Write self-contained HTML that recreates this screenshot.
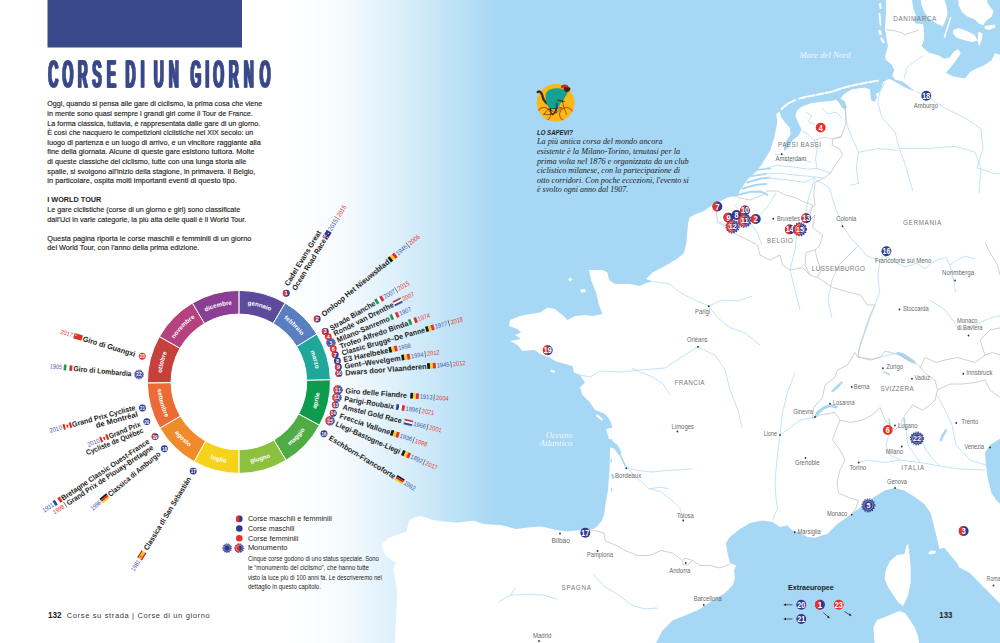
<!DOCTYPE html>
<html lang="it"><head><meta charset="utf-8"><title>Corse di un giorno</title>
<style>
html,body{margin:0;padding:0;background:#fff}
body{width:1000px;height:643px;overflow:hidden;position:relative}
svg{position:absolute;left:0;top:0;display:block}
text{font-family:"Liberation Sans",sans-serif}
.ser{font-family:"Liberation Serif",serif}
.b{font-weight:bold}
.i{font-style:italic}
</style></head><body>
<svg width="1000" height="643" viewBox="0 0 1000 643">
<defs><linearGradient id="sea" gradientUnits="userSpaceOnUse" x1="288" x2="498" y1="0" y2="0"><stop offset="0" stop-color="#a6d7f4" stop-opacity="0"/><stop offset="0.25" stop-color="#a6d7f4" stop-opacity="0.1"/><stop offset="0.53" stop-color="#a6d7f4" stop-opacity="0.4"/><stop offset="0.77" stop-color="#a6d7f4" stop-opacity="0.7"/><stop offset="1" stop-color="#a6d7f4" stop-opacity="1"/></linearGradient></defs>
<rect x="288" y="0" width="210" height="643" fill="url(#sea)"/><rect x="497.5" y="0" width="504" height="643" fill="#a6d7f4"/>
<polygon points="886,-2 886,14 885,28 886.6,39 888,46 885,56 886,60 891.5,64.4 894.3,70 892.2,75.6 895,79.8 902,81.2 906,84 912,89 916,91.5 910,89.5 904,87 898,83.5 893,80.5 889,78.8 883.3,82 881.7,87.6 879.3,92.4 876.1,93.2 876.9,98 874.5,102 871.3,100.4 870.5,94 869.7,89.2 864.9,87.6 852.1,89.2 844.1,94 840.5,98.5 844.5,101 847,107.5 845,109.8 841.5,107 838.8,102 836,99.5 832,101 822,101.7 811,103.2 802,106.5 797,110.5 795.3,115.6 798.4,123.3 801.5,129.5 798.4,135.8 792.2,140.4 789.1,146.7 784.4,151.3 783.7,146.7 787.5,138.9 790.7,134.2 789.9,128 784.4,121.8 781.3,117.1 777.6,118 776.8,124.5 774.4,137.3 770.4,150 766.5,156.4 761.7,164.4 756.9,170.8 752.1,175.6 747.3,179.6 742.5,186.8 739.3,191.6 737.7,196.4 731.3,196.4 726.5,198 720,201.2 712,205.3 704,210.9 696,214 689.6,217.3 688,223.7 687.2,233.3 686.4,242.9 684,253 677.5,258.5 665,266 652.5,272.5 646,279 653,281.5 646,283 640,286 630,284 615,284 609,280 607.5,272.5 602.5,270 589,270 591,280 596,292.5 599,305 602.5,314 592.5,316 585,315 575,316 567.5,320 562.5,315 555,309 547.5,307.5 540,312.5 530,314 520,316 510,320 509,326 517.5,329 521,332.5 515,335 521,339 510,341 517.5,345 522.5,351 534,350 542.5,355 550,357.5 555,361 565,364 572.5,366 574,372.5 580,375 585,382.5 580,387.5 582.5,395 590,402.5 595,410 605,414 610,420 612.5,427.5 606,429 609,439 617.5,445 622,453 616,449 610,447.5 609.5,470 608,490 605.3,505.6 604,515 601.4,521.2 597,526.5 593.6,529 585,530 578,530.3 567.6,531.6 560,530.5 552,529 545,527.3 539,526.4 526,527.7 515.6,529 507,526.5 500,525.1 490,524.6 481.8,523.8 474,520.7 465,521.8 455.8,522.5 444,521.4 432.4,519.9 426,517.5 419.4,516 413,518 409,521.2 406.4,531.6 397,535 388.2,538.1 381.7,544.6 383,550 385.6,555 391,559.5 396,562.8 393.4,568 395.5,581 397.3,594 396.7,607 396,620 394.7,645 656,645 656,643 662.5,630.5 672.5,620.5 685,615.5 700,609 712.5,600.5 725,593 732.5,585.5 735,578 734,570.5 736,565.5 730,563 727.5,553 726,543 730,537 740,529 750,523 762.5,520.5 772.5,522 780,527 787.5,525.5 792.5,530.5 800,533 807.5,537 815,537.7 827.4,534 837.3,524 849.8,515.3 859.7,507.9 867.2,501.7 874.6,496.7 884.6,490.5 894.5,488 904.5,490.5 914.4,496.7 924.4,504.1 930.6,512.9 933.1,522.8 935.6,532.8 938,542.7 939.3,548.9 944.3,547.7 949.3,553.9 956.7,562.6 959.2,567.6 969.2,572.6 979.1,582.5 989,592.5 996.5,599.9 1002,605 1002,505.4 996.5,500.4 991.5,493 989,483 987.5,477.5 986,465 985,452.5 990,445 1002,437.5 1002,55.3 995,53.2 991.6,60.2 984.6,65.1 977.6,67.9 970.6,71.4 965,78.4 952.4,76.3 946,72.8 949.6,68.6 955.2,61.6 960.8,53.2 958,49 953.8,51.8 949.6,57.4 944,58.8 938.4,55.3 928.6,52.5 921.6,46.2 923.7,40.6 924.4,32.2 918.8,28 914,21 916,15.4 913.2,8.4 911.8,-2" fill="#fff"/>
<polygon points="920.2,-2 921.6,5.6 924.4,12.6 930,19.6 937,23.8 942.6,26.6 945.4,21 947.5,14 946.8,7 944,-2" fill="#fff"/>
<polygon points="958,-2 958.7,5.6 962.2,12.6 967.8,16.8 974.8,19.6 979,23.8 983.2,25.2 986,21 991.6,16.8 993.7,11.2 990.2,7 987.4,2.8 986.7,-2" fill="#fff"/>
<polygon points="953.1,30.1 958,28 966.4,30.8 974.8,35 977.6,40.6 972,42 963.6,39.9 956.6,37.8 953.1,33.6" fill="#fff"/>
<polygon points="978.3,31.5 982.5,33.6 981.8,40.6 979,46.2 977.6,40.6" fill="#fff"/>
<polygon points="984.6,25.9 994.4,24.5 995.8,27.3 988.8,30.1 984.6,28.7" fill="#fff"/>
<polygon points="950,17 951.5,17.5 945,38 943.5,37.5" fill="#fff"/>
<polygon points="914,23.5 923,24 924,31 917,30" fill="#fff"/>
<polygon points="908.2,544 909.5,555.1 910.7,567.6 910.7,582.5 908.2,595 903.2,606.1 898.3,602.4 893.3,595 888.3,587.5 884.6,578.8 885.8,570.1 889.6,561.4 897,555.1 904.5,553.9 906.5,545.2" fill="#fff"/>
<polygon points="874.6,645 873.4,627.3 877,620 885,617 892,614 899.5,611 905,613 910,620 915,628 918,636 919.4,645" fill="#fff"/>
<polygon points="928,553 931,550.5 936,551 935,553.5 930,554.5" fill="#fff"/>
<polygon points="776.5,113.5 779.5,112 781,116 778.5,120.5 776.5,118" fill="#fff"/>
<polygon points="568,279 571,277.5 572.5,280 569.5,281.5" fill="#fff"/>
<polygon points="580,289.5 585,289 586,292 581,292.5" fill="#fff"/>
<polygon points="550.5,369.5 555,371 554.5,373 550.5,371.5" fill="#fff"/>
<polygon points="593,405 599,407.5 598.5,409 593,407" fill="#fff"/>
<polygon points="597,414 603,419 602,421 596,416" fill="#fff"/>
<polyline points="781.5,109 788,103.6 796,99.6" fill="none" stroke="#fff" stroke-width="2.0" stroke-linecap="round" stroke-dasharray="4.5 1.4"/>
<polyline points="799,98.6 807.3,96.6 818,94.6 832,91.7 842.5,88 852,85.6 866,82.7 878,80.6" fill="none" stroke="#fff" stroke-width="2.0" stroke-linecap="round" stroke-dasharray="7 2"/>
<polyline points="880,4 880.5,8" fill="none" stroke="#fff" stroke-width="2" stroke-linecap="round"/>
<polyline points="879.5,14 880.5,25" fill="none" stroke="#fff" stroke-width="1.8" stroke-linecap="round"/>
<polyline points="879.5,31 880.5,34" fill="none" stroke="#fff" stroke-width="2.4" stroke-linecap="round"/>
<polyline points="881.5,38.5 883.5,42" fill="none" stroke="#fff" stroke-width="2.4" stroke-linecap="round"/>
<polyline points="610.5,440.5 619.5,453.5" fill="none" stroke="#a6d7f4" stroke-width="3.2" stroke-linecap="round" stroke-linejoin="round"/>
<polyline points="619.5,453.5 625.3,466" fill="none" stroke="#a6d7f4" stroke-width="1.7" stroke-linecap="round" stroke-linejoin="round"/>
<polyline points="612.3,475 613.3,477.5" fill="none" stroke="#a6d7f4" stroke-width="2.6" stroke-linecap="round" stroke-linejoin="round"/>
<polyline points="611,459 611.2,462" fill="none" stroke="#a6d7f4" stroke-width="1.2" stroke-linecap="round" stroke-linejoin="round"/>
<polyline points="611.3,488 611.6,491" fill="none" stroke="#a6d7f4" stroke-width="1.2" stroke-linecap="round" stroke-linejoin="round"/>
<polyline points="755.7,170 770.4,168.4" fill="none" stroke="#a6d7f4" stroke-width="1.6" stroke-linecap="round" stroke-linejoin="round"/>
<polyline points="751.8,176.2 765.8,173.9" fill="none" stroke="#a6d7f4" stroke-width="1.8" stroke-linecap="round" stroke-linejoin="round"/>
<polyline points="747.1,182.4 761.1,178.5 768.9,177.8" fill="none" stroke="#a6d7f4" stroke-width="2.0" stroke-linecap="round" stroke-linejoin="round"/>
<polyline points="742.4,188.6 756.4,184.8 765.8,184" fill="none" stroke="#a6d7f4" stroke-width="2.0" stroke-linecap="round" stroke-linejoin="round"/>
<polyline points="737.8,194.9 750.2,191.8 761.1,191.8 767.3,194.9" fill="none" stroke="#a6d7f4" stroke-width="2.0" stroke-linecap="round" stroke-linejoin="round"/>
<polygon points="813.5,417.5 817,411 824,406 831,404 838,406.5 836.5,408.5 830,407 824,409.5 818.5,414.5 815,418.5" fill="#a6d7f4"/>
<polygon points="897,352 903,353 910,357.5 916,362 914.5,364 908,361 901,356.5 896.5,354" fill="#a6d7f4"/>
<polygon points="831,391.5 836,386 842,381 843,382.5 838,388 832.5,392.5" fill="#a6d7f4"/>
<polygon points="888.5,418.5 890,418.5 890.5,426 889,434 887.5,433.5 889,426" fill="#a6d7f4"/>
<polygon points="903.5,418 905,418 905.5,425 907,430 905.5,430.5 903.8,425" fill="#a6d7f4"/>
<polygon points="945.5,429 947.5,430 944,436 941.5,441.5 939.5,441 941.5,435" fill="#a6d7f4"/>
<polygon points="884,371 890,374 889.5,375.5 883.5,372.5" fill="#a6d7f4"/>
<g fill="none" stroke="#b4dcf5" stroke-width="0.8" stroke-linejoin="round">
<polyline points="815.6,179.5 829.2,187.3 835,206.7 842.8,226.2 850.6,237.9 858.4,245.6 866.1,255.4 879.8,261.2 877.8,276.8 879.8,292.3 875.9,302.1 868.1,323.5 862.3,340 859,350 858,357 872,359 885,356 897,353"/>
<polyline points="765.8,168.4 776.7,165.3 792.2,166.9 807.8,169.2 817.1,168.4 831.1,173.1"/>
<polyline points="761.1,174.7 776.7,173.1 792.2,174.7 807.8,176.2 823.3,177.8"/>
<polyline points="768.9,177.8 773.5,178.5 789.1,180.1 804.7,182.4 815,177.5"/>
<polyline points="817.1,168.4 815.5,159.1 817.1,149.8 814,140.4 807.8,134.2 801.5,131.1"/>
<polyline points="814,140.4 823.3,137.3 832.6,138.9 842,135.8"/>
<polyline points="781.3,154.4 775.1,154.4"/>
<polyline points="782.9,159.1 792.2,162.2 801.5,159.1 810.9,162.2"/>
<polyline points="806,112 812,116 808,121 815,125"/>
<polyline points="822,108 828,114 836,112 842,118"/>
<polyline points="879.8,261.2 883.7,255.4 893.4,261.2 905,267 916.7,263.1 924.5,269 934.2,261.2 945.9,257.3 949.8,265.1 955.6,261.2 965,256 975,259"/>
<polyline points="949.8,265.1 953.7,280.7 955.6,292.3"/>
<polyline points="916,91.5 922.5,93.75 926.5,95.8 944,107.5 967.3,119.2 981,129 983,148.4 977,167.8 994.6,173.7 1001,173.7"/>
<polyline points="885,82.5 880,92 877.8,101.7 881.7,117.2 895.3,132.8 899.2,148.4 905,163.9 912.8,191.2"/>
<polyline points="899.2,148.4 928.4,148.4 955.6,146.4 975,152.3 981,167.8 979,193"/>
<polyline points="858.4,152.3 877.8,148.4 897.3,150.3"/>
<polyline points="845,108 847,125 853,140 858.4,152.3 856.4,167.8 858.4,183.4 850.6,185.3"/>
<polyline points="923.2,56 915.2,60.8 907.2,67.2 904,78.4"/>
<polyline points="653,281.5 670,284 680,292.5 692.5,299 708.75,306 717.5,317.5 730,327.5 745,333 760,345"/>
<polyline points="708.75,306 722,300 738,301 752,296"/>
<polyline points="580,375 590,377 600,371 620,372 640,370 665,368 680,358 697.5,347 715,355 725,370 730,390 738,410 742,428"/>
<polyline points="625.3,466 626.7,467.7 636.5,477.5 649,488.7 660.3,491.5 671.5,499.9 679.9,508.3 683.2,520"/>
<polyline points="626,467 638,470.5 652,472 666,470.5 692,469"/>
<polyline points="813.5,417.5 800,420 790,428 780,435 778,450 776,470 775,483 776,498 777.5,508 772.5,520.5"/>
<polyline points="795,372.5 787.5,392.5 782.5,412.5 780,435"/>
<polyline points="858.75,462.5 867.5,460 885,462.5 900,460 920,462.5 940,466 960,469 985,470"/>
<polyline points="815,177.5 808,200 805,218 797,232 795,250 790,270 795,290 800,310"/>
<polyline points="858.4,245.6 846.7,257.3 838.9,265.1 832,280 828,300 832,318"/>
<polyline points="922,440 926,450 932,458 940,466"/>
<polyline points="889,434 886,445 890,455 900,460"/>
<polyline points="906,430 908,445 915,455 920,462.5"/>
<polyline points="937,395 945,410 952,425 956,445 970,460 986,465"/>
<polyline points="735,205 742,215 750,222 757,232 762,245"/>
<polyline points="716,222 726,226 738,228 748,226 757,218 768,206 776,193"/>
<polyline points="960,330 975,325 990,318 1000,316"/>
<polyline points="930,300 945,310 960,330"/>
<polyline points="593.6,574.5 604,586.2 617,594 632.5,605.5 645,609 657.5,608"/>
<polyline points="498.7,601.8 510.4,595.3 515.6,587.5"/>
<polyline points="510.4,595.3 531.2,594 545,595.5 557.2,599.2"/>
<polyline points="632,368.4 652,376.8 663,383.8 670,395"/>
<polyline points="649,488.7 660,487.3 668.7,488.7"/>
</g>
<g fill="none" stroke="#c4c4c4" stroke-width="0.8" stroke-linejoin="round">
<polyline points="715.5,208 717.5,220 725,227.5 737.5,235 747.5,240 757.5,245 760,255 770,260 780,255 782.5,265 790,270 802.5,267.5 810,275"/>
<polyline points="737.5,197.5 750,200 762.5,195 767.5,191 777.5,191 785,195 795,197.5 805,202.5 812.5,205 810,215 808.75,220"/>
<polyline points="830.5,94 839.3,102 845.7,110 845.7,124.5 840.9,137.3 832.9,138.9 832.1,145.3 839.3,148.5 842.5,154.9 834.5,166.1 831,172.5 825,177.5 815,182.5 813.75,195 815,205 806,215 810,220"/>
<polyline points="810,220 815,215 812.5,227.5 822.5,235 820,245 815,250 806,252.5 805,265 810,275 817.5,277.5 821,270 817.5,260 815,250"/>
<polyline points="817.5,277.5 832.5,287.5 850,292.5 860,295 867.5,305 875,305 870,315 865,330 860,345 858,357"/>
<polyline points="858,357 855,352.5 847.5,365 837.5,370 835,377.5 825,385 822.5,397.5 813.75,407.5 812.5,418.75 820,415 835,412.5 840,420 850,422.5 862.5,420 872.5,415 880,407.5 885,420 895,430 900,425 905,415 912.5,405 922.5,410 930,405 935,400 937.5,390 935,380 927.5,375 920,367.5 915,362.5 900,355 885,351 880,357.5 870,360 858,357"/>
<polyline points="840,420 835,432.5 832.5,440 840,450 845,460 840,470 837.5,480 837,483 838.5,493 849.8,498 858.5,500.4 856,508 852,514"/>
<polyline points="920,367.5 925,357.5 936,362.5 945,360 957.5,357.5 975,362.5 985,355 992.5,352.5 1000,355"/>
<polyline points="937.5,390 950,384 962.5,384 975,382.5 985,380 990,390 1000,397.5"/>
<polyline points="589,531 593.6,530.3 604,532.9 605.3,540.7 617,545.9 625,550.5 637.5,555.5 650,555.5 661,550.5 672.5,553 682.5,560.5 685,558 692.5,560.5 700,565.5 710,565.5 720,568 730,564"/>
<polyline points="682.5,560.5 683,564.5 688,565 692.5,560.5"/>
<polyline points="886.6,29.7 895,30.8 902,32.9 904.8,34.7 911.8,32.2 918.8,30.1"/>
<polyline points="985,242.5 990,252.5 997.5,265 1000,275"/>
<polyline points="985,355 980,340 990,330 1000,328"/>
</g>
<g font-size="6.4" fill="#6a6a6a">
<circle cx="781.75" cy="154.25" r="0.9" fill="#333"/>
<text x="775.5" y="160.9" textLength="30.7" lengthAdjust="spacingAndGlyphs">Amsterdam</text>
<circle cx="773.25" cy="218.75" r="0.9" fill="#333"/>
<text x="777" y="220.7" textLength="23" lengthAdjust="spacingAndGlyphs">Bruxelles</text>
<circle cx="842.5" cy="226.25" r="0.9" fill="#333"/>
<text x="836.25" y="220.9" textLength="20" lengthAdjust="spacingAndGlyphs">Colonia</text>
<text x="875" y="262.6" textLength="56.2" lengthAdjust="spacingAndGlyphs">Francoforte sul Meno</text>
<circle cx="955" cy="280.5" r="0.9" fill="#333"/>
<text x="942" y="275.4" textLength="32.2" lengthAdjust="spacingAndGlyphs">Norimberga</text>
<circle cx="899.5" cy="309.5" r="0.9" fill="#333"/>
<text x="903" y="311" textLength="25.7" lengthAdjust="spacingAndGlyphs">Stoccarda</text>
<circle cx="968.5" cy="335.5" r="0.9" fill="#333"/>
<text x="957" y="323.3" textLength="20.5" lengthAdjust="spacingAndGlyphs">Monaco</text>
<text x="957" y="329.6" textLength="25.5" lengthAdjust="spacingAndGlyphs">di Baviera</text>
<text x="913.75" y="107.6" textLength="24.2" lengthAdjust="spacingAndGlyphs">Amburgo</text>
<circle cx="708.75" cy="306.25" r="0.9" fill="#333"/>
<text x="695" y="314" textLength="15" lengthAdjust="spacingAndGlyphs">Parigi</text>
<circle cx="698" cy="346.75" r="0.9" fill="#333"/>
<text x="687" y="342.4" textLength="20.5" lengthAdjust="spacingAndGlyphs">Orléans</text>
<circle cx="677.5" cy="431.5" r="0.9" fill="#333"/>
<text x="671.5" y="428.8" textLength="22.5" lengthAdjust="spacingAndGlyphs">Limoges</text>
<circle cx="626.25" cy="468.25" r="0.9" fill="#333"/>
<text x="615" y="477.6" textLength="26.2" lengthAdjust="spacingAndGlyphs">Bordeaux</text>
<circle cx="683.25" cy="520.5" r="0.9" fill="#333"/>
<text x="677" y="517.7" textLength="16.7" lengthAdjust="spacingAndGlyphs">Tolosa</text>
<circle cx="685.75" cy="563" r="0.9" fill="#333"/>
<text x="669.25" y="572.7" textLength="21.2" lengthAdjust="spacingAndGlyphs">Andorra</text>
<circle cx="703.75" cy="605" r="0.9" fill="#333"/>
<text x="693.75" y="601" textLength="28" lengthAdjust="spacingAndGlyphs">Barcellona</text>
<circle cx="794.75" cy="532.25" r="0.9" fill="#333"/>
<text x="797.5" y="533.8" textLength="23.2" lengthAdjust="spacingAndGlyphs">Marsiglia</text>
<circle cx="851.7" cy="514.6" r="0.9" fill="#333"/>
<text x="826.9" y="516" textLength="20.4" lengthAdjust="spacingAndGlyphs">Monaco</text>
<circle cx="895" cy="488" r="0.9" fill="#333"/>
<text x="887" y="484.4" textLength="20" lengthAdjust="spacingAndGlyphs">Genova</text>
<circle cx="858.75" cy="462.5" r="0.9" fill="#333"/>
<text x="849.5" y="470.2" textLength="16.7" lengthAdjust="spacingAndGlyphs">Torino</text>
<circle cx="901.75" cy="446.5" r="0.9" fill="#333"/>
<text x="885.75" y="454.4" textLength="17.2" lengthAdjust="spacingAndGlyphs">Milano</text>
<circle cx="895" cy="425.5" r="0.9" fill="#333"/>
<text x="898" y="427.7" textLength="19.5" lengthAdjust="spacingAndGlyphs">Lugano</text>
<circle cx="956.25" cy="423" r="0.9" fill="#333"/>
<text x="961.25" y="424.2" textLength="17" lengthAdjust="spacingAndGlyphs">Trento</text>
<circle cx="990" cy="447.5" r="0.9" fill="#333"/>
<text x="964.5" y="449" textLength="19.7" lengthAdjust="spacingAndGlyphs">Venezia</text>
<circle cx="805.5" cy="458" r="0.9" fill="#333"/>
<text x="795" y="465.2" textLength="24.5" lengthAdjust="spacingAndGlyphs">Grenoble</text>
<circle cx="780" cy="435" r="0.9" fill="#333"/>
<text x="763.75" y="436.2" textLength="13.2" lengthAdjust="spacingAndGlyphs">Lione</text>
<circle cx="815" cy="417" r="0.9" fill="#333"/>
<text x="793.25" y="414.4" textLength="19.7" lengthAdjust="spacingAndGlyphs">Ginevra</text>
<circle cx="830" cy="403.75" r="0.9" fill="#333"/>
<text x="833" y="405.2" textLength="21.5" lengthAdjust="spacingAndGlyphs">Losanna</text>
<circle cx="851.75" cy="387" r="0.9" fill="#333"/>
<text x="853.75" y="388.7" textLength="15.7" lengthAdjust="spacingAndGlyphs">Berna</text>
<circle cx="883" cy="368.25" r="0.9" fill="#333"/>
<text x="886.25" y="369.4" textLength="16.7" lengthAdjust="spacingAndGlyphs">Zurigo</text>
<circle cx="912" cy="378.75" r="0.9" fill="#333"/>
<text x="914.5" y="380.2" textLength="15.5" lengthAdjust="spacingAndGlyphs">Vaduz</text>
<circle cx="963.25" cy="373.75" r="0.9" fill="#333"/>
<text x="966.25" y="375.2" textLength="26.2" lengthAdjust="spacingAndGlyphs">Innsbruck</text>
<circle cx="993.5" cy="585.5" r="0.9" fill="#333"/>
<text x="986.6" y="581" textLength="14" lengthAdjust="spacingAndGlyphs">Roma</text>
<circle cx="560" cy="533.5" r="0.9" fill="#333"/>
<text x="551.5" y="543" textLength="18.5" lengthAdjust="spacingAndGlyphs">Bilbao</text>
<circle cx="597.5" cy="551" r="0.9" fill="#333"/>
<text x="587" y="557.2" textLength="26" lengthAdjust="spacingAndGlyphs">Pamplona</text>
<circle cx="539" cy="641" r="0.9" fill="#333"/>
<text x="533" y="638.4" textLength="18.4" lengthAdjust="spacingAndGlyphs">Madrid</text>
</g>
<g font-size="6.3" fill="#7a7a7a">
<text x="893.2" y="20.8" textLength="43.1" lengthAdjust="spacing">DANIMARCA</text>
<text x="778" y="146.6" textLength="43" lengthAdjust="spacing">PAESI BASSI</text>
<text x="767" y="242.6" textLength="26" lengthAdjust="spacing">BELGIO</text>
<text x="811.75" y="270.6" textLength="53.2" lengthAdjust="spacing">LUSSEMBURGO</text>
<text x="903" y="224.6" textLength="38.2" lengthAdjust="spacing">GERMANIA</text>
<text x="674.5" y="385.2" textLength="30" lengthAdjust="spacing">FRANCIA</text>
<text x="880.5" y="390.6" textLength="33.2" lengthAdjust="spacing">SVIZZERA</text>
<text x="901.25" y="470.1" textLength="23" lengthAdjust="spacing">ITALIA</text>
<text x="561.5" y="590.2" textLength="29.5" lengthAdjust="spacing">SPAGNA</text>
</g>
<g class="ser i" fill="#fff" fill-opacity="0.88" font-size="7.6">
<text x="799.5" y="57.6" textLength="51" lengthAdjust="spacingAndGlyphs" class="ser i">Mare del Nord</text>
<text x="545.75" y="438.1" textLength="26.8" lengthAdjust="spacingAndGlyphs" class="ser i">Oceano</text>
<text x="539.5" y="446.4" textLength="33" lengthAdjust="spacingAndGlyphs" class="ser i">Atlantico</text>
</g>
<text x="788" y="590.0" font-size="7.9" class="b" fill="#1d1d1b" textLength="45.8" lengthAdjust="spacingAndGlyphs">Extraeuropee</text>
<path d="M792.5,604.75 L783.75,604.75" stroke="#222" stroke-width="0.7" fill="none"/><path d="M783.75,604.75 L786.03,603.50 L786.03,606.00 Z" fill="#222"/>
<path d="M792.5,619 L783.75,619" stroke="#222" stroke-width="0.7" fill="none"/><path d="M783.75,619 L786.03,617.75 L786.03,620.25 Z" fill="#222"/>
<path d="M823.25,612.5 L829.5,618" stroke="#222" stroke-width="0.7" fill="none"/><path d="M829.5,618 L826.96,617.43 L828.61,615.56 Z" fill="#222"/>
<path d="M844.5,611.6 L851.3,615.6" stroke="#222" stroke-width="0.7" fill="none"/><path d="M851.3,615.6 L848.70,615.52 L849.97,613.37 Z" fill="#222"/>
<circle cx="926.3" cy="95.7" r="4.95" fill="#2f3a8f"/><text x="926.3" y="98.72" font-size="8.4" class="b" fill="#fff" text-anchor="middle" textLength="7.9" lengthAdjust="spacingAndGlyphs">18</text>
<circle cx="820.7" cy="127.6" r="4.95" fill="#e63329"/><text x="820.7" y="130.62" font-size="8.4" class="b" fill="#fff" text-anchor="middle" textLength="4.0" lengthAdjust="spacingAndGlyphs">4</text>
<circle cx="717.4" cy="206.5" r="4.95" fill="#2f3a8f"/><path d="M717.4,201.55 A4.95,4.95 0 0 0 717.4,211.45 Z" fill="#e63329"/><text x="717.4" y="209.52" font-size="8.4" class="b" fill="#fff" text-anchor="middle" textLength="4.0" lengthAdjust="spacingAndGlyphs">7</text>
<circle cx="736.5" cy="215" r="4.95" fill="#2f3a8f"/><text x="736.5" y="218.02" font-size="8.4" class="b" fill="#fff" text-anchor="middle" textLength="4.0" lengthAdjust="spacingAndGlyphs">8</text>
<circle cx="728.4" cy="217.6" r="4.95" fill="#2f3a8f"/><path d="M728.4,212.65 A4.95,4.95 0 0 0 728.4,222.54999999999998 Z" fill="#e63329"/><text x="728.4" y="220.62" font-size="8.4" class="b" fill="#fff" text-anchor="middle" textLength="4.0" lengthAdjust="spacingAndGlyphs">9</text>
<circle cx="745" cy="210.4" r="4.95" fill="#2f3a8f"/><path d="M745,205.45000000000002 A4.95,4.95 0 0 0 745,215.35 Z" fill="#e63329"/><text x="745" y="213.42" font-size="8.4" class="b" fill="#fff" text-anchor="middle" textLength="7.9" lengthAdjust="spacingAndGlyphs">10</text>
<circle cx="732.6" cy="226.5" r="6.0" fill="#2f3a8f"/><path d="M732.6,220.5 A6.0,6.0 0 0 0 732.6,232.5 Z" fill="#e63329"/><circle cx="732.6" cy="226.5" r="6.45" fill="none" stroke="#2f3a8f" stroke-width="1.1" stroke-dasharray="1.4 1.13"/><path d="M732.6,220.05 A6.45,6.45 0 0 0 732.6,232.95" fill="none" stroke="#e63329" stroke-width="1.1" stroke-dasharray="1.4 1.13"/><circle cx="732.6" cy="226.5" r="4.55" fill="none" stroke="#fff" stroke-width="0.45"/><text x="732.6" y="229.24" font-size="7.6" class="b" fill="#fff" text-anchor="middle" textLength="7.9" lengthAdjust="spacingAndGlyphs">12</text>
<circle cx="744.7" cy="220.6" r="6.0" fill="#2f3a8f"/><path d="M744.7,214.6 A6.0,6.0 0 0 0 744.7,226.6 Z" fill="#e63329"/><circle cx="744.7" cy="220.6" r="6.45" fill="none" stroke="#2f3a8f" stroke-width="1.1" stroke-dasharray="1.4 1.13"/><path d="M744.7,214.15 A6.45,6.45 0 0 0 744.7,227.04999999999998" fill="none" stroke="#e63329" stroke-width="1.1" stroke-dasharray="1.4 1.13"/><circle cx="744.7" cy="220.6" r="4.55" fill="none" stroke="#fff" stroke-width="0.45"/><text x="744.7" y="223.34" font-size="7.6" class="b" fill="#fff" text-anchor="middle" textLength="7.9" lengthAdjust="spacingAndGlyphs">11</text>
<circle cx="755.8" cy="219" r="4.95" fill="#2f3a8f"/><path d="M755.8,214.05 A4.95,4.95 0 0 0 755.8,223.95 Z" fill="#e63329"/><text x="755.8" y="222.02" font-size="8.4" class="b" fill="#fff" text-anchor="middle" textLength="4.0" lengthAdjust="spacingAndGlyphs">2</text>
<circle cx="806.25" cy="218.25" r="4.95" fill="#2f3a8f"/><path d="M806.25,213.3 A4.95,4.95 0 0 0 806.25,223.2 Z" fill="#e63329"/><text x="806.25" y="221.27" font-size="8.4" class="b" fill="#fff" text-anchor="middle" textLength="7.9" lengthAdjust="spacingAndGlyphs">13</text>
<circle cx="789.8" cy="229.4" r="4.95" fill="#2f3a8f"/><path d="M789.8,224.45000000000002 A4.95,4.95 0 0 0 789.8,234.35 Z" fill="#e63329"/><text x="789.8" y="232.42" font-size="8.4" class="b" fill="#fff" text-anchor="middle" textLength="7.9" lengthAdjust="spacingAndGlyphs">14</text>
<circle cx="800" cy="229.3" r="6.0" fill="#2f3a8f"/><path d="M800,223.3 A6.0,6.0 0 0 0 800,235.3 Z" fill="#e63329"/><circle cx="800" cy="229.3" r="6.45" fill="none" stroke="#2f3a8f" stroke-width="1.1" stroke-dasharray="1.4 1.13"/><path d="M800,222.85000000000002 A6.45,6.45 0 0 0 800,235.75" fill="none" stroke="#e63329" stroke-width="1.1" stroke-dasharray="1.4 1.13"/><circle cx="800" cy="229.3" r="4.55" fill="none" stroke="#fff" stroke-width="0.45"/><text x="800" y="232.04" font-size="7.6" class="b" fill="#fff" text-anchor="middle" textLength="7.9" lengthAdjust="spacingAndGlyphs">15</text>
<circle cx="886.4" cy="251.3" r="4.95" fill="#2f3a8f"/><text x="886.4" y="254.32" font-size="8.4" class="b" fill="#fff" text-anchor="middle" textLength="7.9" lengthAdjust="spacingAndGlyphs">16</text>
<circle cx="547.75" cy="350.25" r="4.95" fill="#2f3a8f"/><path d="M547.75,345.3 A4.95,4.95 0 0 0 547.75,355.2 Z" fill="#e63329"/><text x="547.75" y="353.27" font-size="8.4" class="b" fill="#fff" text-anchor="middle" textLength="7.9" lengthAdjust="spacingAndGlyphs">19</text>
<circle cx="585.3" cy="532.8" r="4.95" fill="#2f3a8f"/><text x="585.3" y="535.82" font-size="8.4" class="b" fill="#fff" text-anchor="middle" textLength="7.9" lengthAdjust="spacingAndGlyphs">17</text>
<circle cx="887.8" cy="430" r="4.95" fill="#e63329"/><text x="887.8" y="433.02" font-size="8.4" class="b" fill="#fff" text-anchor="middle" textLength="4.0" lengthAdjust="spacingAndGlyphs">6</text>
<circle cx="917" cy="438.5" r="6.0" fill="#2f3a8f"/><circle cx="917" cy="438.5" r="6.45" fill="none" stroke="#2f3a8f" stroke-width="1.1" stroke-dasharray="1.4 1.13"/><circle cx="917" cy="438.5" r="4.55" fill="none" stroke="#fff" stroke-width="0.45"/><text x="917" y="441.24" font-size="7.6" class="b" fill="#fff" text-anchor="middle" textLength="7.9" lengthAdjust="spacingAndGlyphs">22</text>
<circle cx="868.4" cy="505.4" r="6.0" fill="#2f3a8f"/><circle cx="868.4" cy="505.4" r="6.45" fill="none" stroke="#2f3a8f" stroke-width="1.1" stroke-dasharray="1.4 1.13"/><circle cx="868.4" cy="505.4" r="4.55" fill="none" stroke="#fff" stroke-width="0.45"/><text x="868.4" y="508.14" font-size="7.6" class="b" fill="#fff" text-anchor="middle" textLength="4.0" lengthAdjust="spacingAndGlyphs">5</text>
<circle cx="963.7" cy="531" r="4.95" fill="#2f3a8f"/><path d="M963.7,526.05 A4.95,4.95 0 0 0 963.7,535.95 Z" fill="#e63329"/><text x="963.7" y="534.02" font-size="8.4" class="b" fill="#fff" text-anchor="middle" textLength="4.0" lengthAdjust="spacingAndGlyphs">3</text>
<circle cx="801.25" cy="604.75" r="4.95" fill="#2f3a8f"/><text x="801.25" y="607.77" font-size="8.4" class="b" fill="#fff" text-anchor="middle" textLength="7.9" lengthAdjust="spacingAndGlyphs">20</text>
<circle cx="820" cy="604.75" r="4.95" fill="#2f3a8f"/><path d="M820,599.8 A4.95,4.95 0 0 0 820,609.7 Z" fill="#e63329"/><text x="820" y="607.77" font-size="8.4" class="b" fill="#fff" text-anchor="middle" textLength="4.0" lengthAdjust="spacingAndGlyphs">1</text>
<circle cx="838.75" cy="604.75" r="4.95" fill="#e63329"/><text x="838.75" y="607.77" font-size="8.4" class="b" fill="#fff" text-anchor="middle" textLength="7.9" lengthAdjust="spacingAndGlyphs">23</text>
<circle cx="801.25" cy="619" r="4.95" fill="#2f3a8f"/><text x="801.25" y="622.02" font-size="8.4" class="b" fill="#fff" text-anchor="middle" textLength="7.9" lengthAdjust="spacingAndGlyphs">21</text>
<rect x="47.5" y="0" width="194.5" height="47.5" fill="#394888"/>
<defs><filter id="tf" x="-2%" y="-5%" width="104%" height="110%"><feOffset in="SourceGraphic" dx="1" dy="0" result="a"/><feOffset in="SourceGraphic" dx="-1" dy="0" result="b"/><feMerge><feMergeNode in="a"/><feMergeNode in="b"/><feMergeNode in="SourceGraphic"/></feMerge></filter></defs>
<g filter="url(#tf)"><g transform="scale(0.355,1)" font-size="37.1" fill="#394888" stroke="#394888" stroke-width="1.4" stroke-linejoin="miter">
<text x="136.34 176.9 219.44 260.85 301.41" y="87.0">CORSE</text>
<text x="354.08 396.62" y="87.0">DI</text>
<text x="434.08 476.34" y="87.0">UN</text>
<text x="537.46 579.15 601.69 644.79 687.32 732.11" y="87.0">GIORNO</text>
</g></g>
<text x="47.3" y="106.4" font-size="8.0" fill="#1d1d1b" textLength="215" lengthAdjust="spacingAndGlyphs" stroke="#1d1d1b" stroke-width="0.15">Oggi, quando si pensa alle gare di ciclismo, la prima cosa che viene</text>
<text x="47.3" y="116.0" font-size="8.0" fill="#1d1d1b" textLength="205.5" lengthAdjust="spacingAndGlyphs" stroke="#1d1d1b" stroke-width="0.15">in mente sono quasi sempre i grandi giri come il Tour de France.</text>
<text x="47.3" y="125.6" font-size="8.0" fill="#1d1d1b" textLength="213" lengthAdjust="spacingAndGlyphs" stroke="#1d1d1b" stroke-width="0.15">La forma classica, tuttavia, è rappresentata dalle gare di un giorno.</text>
<text x="47.3" y="135.2" font-size="8.0" fill="#1d1d1b" textLength="206" lengthAdjust="spacingAndGlyphs" stroke="#1d1d1b" stroke-width="0.15">È così che nacquero le competizioni ciclistiche nel XIX secolo: un</text>
<text x="47.3" y="144.8" font-size="8.0" fill="#1d1d1b" textLength="213.5" lengthAdjust="spacingAndGlyphs" stroke="#1d1d1b" stroke-width="0.15">luogo di partenza e un luogo di arrivo, e un vincitore raggiante alla</text>
<text x="47.3" y="154.4" font-size="8.0" fill="#1d1d1b" textLength="207" lengthAdjust="spacingAndGlyphs" stroke="#1d1d1b" stroke-width="0.15">fine della giornata. Alcune di queste gare esistono tuttora. Molte</text>
<text x="47.3" y="164.0" font-size="8.0" fill="#1d1d1b" textLength="199" lengthAdjust="spacingAndGlyphs" stroke="#1d1d1b" stroke-width="0.15">di queste classiche del ciclismo, tutte con una lunga storia alle</text>
<text x="47.3" y="173.6" font-size="8.0" fill="#1d1d1b" textLength="208" lengthAdjust="spacingAndGlyphs" stroke="#1d1d1b" stroke-width="0.15">spalle, si svolgono all'inizio della stagione, in primavera. Il Belgio,</text>
<text x="47.3" y="183.2" font-size="8.0" fill="#1d1d1b" textLength="189.5" lengthAdjust="spacingAndGlyphs" stroke="#1d1d1b" stroke-width="0.15">in particolare, ospita molti importanti eventi di questo tipo.</text>
<text x="47.3" y="202.4" font-size="7.9" fill="#1d1d1b" class="b" textLength="54" lengthAdjust="spacingAndGlyphs">I WORLD TOUR</text>
<text x="47.3" y="212.0" font-size="8.0" fill="#1d1d1b" textLength="193" lengthAdjust="spacingAndGlyphs" stroke="#1d1d1b" stroke-width="0.15">Le gare ciclistiche (corse di un giorno e giri) sono classificate</text>
<text x="47.3" y="221.6" font-size="8.0" fill="#1d1d1b" textLength="199" lengthAdjust="spacingAndGlyphs" stroke="#1d1d1b" stroke-width="0.15">dall'Uci in varie categorie, la più alta delle quali è il World Tour.</text>
<text x="47.3" y="240.8" font-size="8.0" fill="#1d1d1b" textLength="204" lengthAdjust="spacingAndGlyphs" stroke="#1d1d1b" stroke-width="0.15">Questa pagina riporta le corse maschili e femminili di un giorno</text>
<text x="47.3" y="250.4" font-size="8.0" fill="#1d1d1b" textLength="152" lengthAdjust="spacingAndGlyphs" stroke="#1d1d1b" stroke-width="0.15">del World Tour, con l'anno della prima edizione.</text>
<text x="48" y="618.2" font-size="8.2" fill="#1d1d1b" class="b" textLength="13.5" lengthAdjust="spacingAndGlyphs">132</text>
<text x="66.7" y="618.2" font-size="7.3" fill="#3a3a3a" textLength="143.7" lengthAdjust="spacingAndGlyphs" letter-spacing="0.6">Corse su strada | Corse di un giorno</text>
<text x="939.3" y="618.2" font-size="8.2" fill="#1d1d1b" class="b" textLength="13" lengthAdjust="spacingAndGlyphs">133</text>
<circle cx="239.3" cy="518.9" r="3.3" fill="#2f3a8f"/><path d="M239.3,515.6 A3.3,3.3 0 0 0 239.3,522.1999999999999 Z" fill="#e63329"/>
<circle cx="239.3" cy="528.5" r="3.3" fill="#2f3a8f"/>
<circle cx="239.3" cy="538.3" r="3.3" fill="#e63329"/>
<circle cx="227.1" cy="548.2" r="3.9" fill="#2f3a8f"/><circle cx="227.1" cy="548.2" r="4.4" fill="none" stroke="#2f3a8f" stroke-width="1.0" stroke-dasharray="0.98 0.77"/><circle cx="227.1" cy="548.2" r="3.1" fill="none" stroke="#fff" stroke-width="0.35"/>
<circle cx="239.3" cy="548.2" r="3.9" fill="#2f3a8f"/><path d="M239.3,544.3000000000001 A3.9,3.9 0 0 0 239.3,552.1 Z" fill="#e63329"/><circle cx="239.3" cy="548.2" r="4.4" fill="none" stroke="#2f3a8f" stroke-width="1.0" stroke-dasharray="0.98 0.77"/><path d="M239.3,543.8 A4.4,4.4 0 0 0 239.3,552.6" fill="none" stroke="#e63329" stroke-width="1.0" stroke-dasharray="0.98 0.77"/><circle cx="239.3" cy="548.2" r="3.1" fill="none" stroke="#fff" stroke-width="0.35"/>
<text x="247.9" y="521.2" font-size="7.8" fill="#1d1d1b" textLength="84" lengthAdjust="spacingAndGlyphs">Corse maschili e femminili</text>
<text x="247.9" y="530.95" font-size="7.8" fill="#1d1d1b" textLength="46.5" lengthAdjust="spacingAndGlyphs">Corse maschili</text>
<text x="247.9" y="540.7" font-size="7.8" fill="#1d1d1b" textLength="50.5" lengthAdjust="spacingAndGlyphs">Corse femminili</text>
<text x="247.9" y="550.45" font-size="7.8" fill="#1d1d1b" textLength="39.5" lengthAdjust="spacingAndGlyphs">Monumento</text>
<text x="247.9" y="560.6" font-size="6.4" fill="#1d1d1b" textLength="131" lengthAdjust="spacingAndGlyphs">Cinque corse godono di uno status speciale. Sono</text>
<text x="247.9" y="570.2" font-size="6.4" fill="#1d1d1b" textLength="121" lengthAdjust="spacingAndGlyphs">le “monumento del ciclismo”, che hanno tutte</text>
<text x="247.9" y="579.8" font-size="6.4" fill="#1d1d1b" textLength="134" lengthAdjust="spacingAndGlyphs">visto la luce più di 100 anni fa. Le descriveremo nel</text>
<text x="247.9" y="589.4" font-size="6.4" fill="#1d1d1b" textLength="73" lengthAdjust="spacingAndGlyphs">dettaglio in questo capitolo.</text>
<defs>
<path id="mp0" d="M238.90,304.25 A77.65,77.65 0 0 1 278.19,314.93"/>
<path id="mp1" d="M278.19,314.93 A77.65,77.65 0 0 1 305.11,341.33"/>
<path id="mp2" d="M305.11,341.33 A77.65,77.65 0 0 1 316.53,380.14"/>
<path id="mp3" d="M310.79,420.61 A81.65,81.65 0 0 0 320.53,380.05"/>
<path id="mp4" d="M280.95,451.89 A81.65,81.65 0 0 0 310.79,420.61"/>
<path id="mp5" d="M238.90,463.55 A81.65,81.65 0 0 0 280.95,451.89"/>
<path id="mp6" d="M198.82,453.03 A81.65,81.65 0 0 0 238.90,463.55"/>
<path id="mp7" d="M168.40,423.09 A81.65,81.65 0 0 0 198.82,453.03"/>
<path id="mp8" d="M157.25,382.76 A81.65,81.65 0 0 0 168.40,423.09"/>
<path id="mp9" d="M161.25,382.71 A77.65,77.65 0 0 1 171.45,343.43"/>
<path id="mp10" d="M171.45,343.43 A77.65,77.65 0 0 1 199.49,314.99"/>
<path id="mp11" d="M199.49,314.99 A77.65,77.65 0 0 1 238.90,304.25"/>
</defs>
<g>
<path d="M238.90,290.40 A91.5,91.5 0 0 1 285.20,302.98 L273.21,323.42 A67.8,67.8 0 0 0 238.90,314.10 Z" fill="#5c4b9b" stroke="#fff" stroke-width="1"/>
<path d="M285.20,302.98 A91.5,91.5 0 0 1 316.92,334.09 L296.71,346.47 A67.8,67.8 0 0 0 273.21,323.42 Z" fill="#5a7ec2" stroke="#fff" stroke-width="1"/>
<path d="M316.92,334.09 A91.5,91.5 0 0 1 330.38,379.82 L306.68,380.36 A67.8,67.8 0 0 0 296.71,346.47 Z" fill="#1fa79a" stroke="#fff" stroke-width="1"/>
<path d="M330.38,379.82 A91.5,91.5 0 0 1 319.46,425.28 L298.60,414.04 A67.8,67.8 0 0 0 306.68,380.36 Z" fill="#0d9b4e" stroke="#fff" stroke-width="1"/>
<path d="M319.46,425.28 A91.5,91.5 0 0 1 286.03,460.33 L273.82,440.02 A67.8,67.8 0 0 0 298.60,414.04 Z" fill="#4fac45" stroke="#fff" stroke-width="1"/>
<path d="M286.03,460.33 A91.5,91.5 0 0 1 238.90,473.40 L238.90,449.70 A67.8,67.8 0 0 0 273.82,440.02 Z" fill="#8cc03f" stroke="#fff" stroke-width="1"/>
<path d="M238.90,473.40 A91.5,91.5 0 0 1 193.98,461.62 L205.62,440.97 A67.8,67.8 0 0 0 238.90,449.70 Z" fill="#f6d31b" stroke="#fff" stroke-width="1"/>
<path d="M193.98,461.62 A91.5,91.5 0 0 1 159.90,428.06 L180.36,416.11 A67.8,67.8 0 0 0 205.62,440.97 Z" fill="#f08b2b" stroke="#fff" stroke-width="1"/>
<path d="M159.90,428.06 A91.5,91.5 0 0 1 147.41,382.86 L171.10,382.61 A67.8,67.8 0 0 0 180.36,416.11 Z" fill="#ea6b33" stroke="#fff" stroke-width="1"/>
<path d="M147.41,382.86 A91.5,91.5 0 0 1 159.42,336.57 L180.01,348.31 A67.8,67.8 0 0 0 171.10,382.61 Z" fill="#c4413c" stroke="#fff" stroke-width="1"/>
<path d="M159.42,336.57 A91.5,91.5 0 0 1 192.46,303.06 L204.49,323.48 A67.8,67.8 0 0 0 180.01,348.31 Z" fill="#b5427f" stroke="#fff" stroke-width="1"/>
<path d="M192.46,303.06 A91.5,91.5 0 0 1 238.90,290.40 L238.90,314.10 A67.8,67.8 0 0 0 204.49,323.48 Z" fill="#8a3f92" stroke="#fff" stroke-width="1"/>
<text font-size="6.2" class="b" fill="#fff" text-anchor="middle"><textPath href="#mp0" startOffset="50%">gennaio</textPath></text>
<text font-size="6.2" class="b" fill="#fff" text-anchor="middle"><textPath href="#mp1" startOffset="50%">febbraio</textPath></text>
<text font-size="6.2" class="b" fill="#fff" text-anchor="middle"><textPath href="#mp2" startOffset="50%">marzo</textPath></text>
<text font-size="6.2" class="b" fill="#fff" text-anchor="middle"><textPath href="#mp3" startOffset="50%">aprile</textPath></text>
<text font-size="6.2" class="b" fill="#fff" text-anchor="middle"><textPath href="#mp4" startOffset="50%">maggio</textPath></text>
<text font-size="6.2" class="b" fill="#fff" text-anchor="middle"><textPath href="#mp5" startOffset="50%">giugno</textPath></text>
<text font-size="6.2" class="b" fill="#fff" text-anchor="middle"><textPath href="#mp6" startOffset="50%">luglio</textPath></text>
<text font-size="6.2" class="b" fill="#fff" text-anchor="middle"><textPath href="#mp7" startOffset="50%">agosto</textPath></text>
<text font-size="6.2" class="b" fill="#fff" text-anchor="middle"><textPath href="#mp8" startOffset="50%">settembre</textPath></text>
<text font-size="6.2" class="b" fill="#fff" text-anchor="middle"><textPath href="#mp9" startOffset="50%">ottobre</textPath></text>
<text font-size="6.2" class="b" fill="#fff" text-anchor="middle"><textPath href="#mp10" startOffset="50%">novembre</textPath></text>
<text font-size="6.2" class="b" fill="#fff" text-anchor="middle"><textPath href="#mp11" startOffset="50%">dicembre</textPath></text>
</g>
<g transform="translate(286.3,293.3) rotate(-58.6)"><g transform="rotate(58.6)"><circle r="3.45" fill="#2f3a8f"/><path d="M0,-3.45 A3.45,3.45 0 0 0 0,3.45 Z" fill="#e63329"/><text x="0" y="1.9" font-size="5.4" class="b" fill="#fff" text-anchor="middle">1</text></g><text x="7.0" y="-1.65" font-size="7.5" class="b" fill="#1d1d1b" text-anchor="start" textLength="63.2" lengthAdjust="spacingAndGlyphs">Cadel Evans Great</text><text x="7.0" y="6.95" font-size="7.5" class="b" fill="#1d1d1b" text-anchor="start" textLength="58.8" lengthAdjust="spacingAndGlyphs">Ocean Road Race</text><rect x="66.8" y="1.5" width="8.6" height="5.6" fill="#2a3a8c"/><rect x="66.8" y="1.5" width="3.87" height="2.8" fill="#c8313a"/><path d="M66.8,1.5 l3.87,2.8 M70.67,1.5 l-3.87,2.8" stroke="#fff" stroke-width="0.5"/><circle cx="72.99" cy="4.58" r="0.5" fill="#fff"/><circle cx="68.95" cy="5.87" r="0.6" fill="#fff"/><text x="76.4" y="6.4" font-size="6.4" fill="#4355a5" text-anchor="start" textLength="12.7" lengthAdjust="spacingAndGlyphs">2015</text><rect x="90.45" y="1.1" width="0.55" height="6.6" fill="#333"/><text x="92.6" y="6.4" font-size="6.4" fill="#e8392f" text-anchor="start" textLength="12.7" lengthAdjust="spacingAndGlyphs">2015</text></g>
<g transform="translate(317.2,319.0) rotate(-39.2)"><g transform="rotate(39.2)"><circle r="3.45" fill="#2f3a8f"/><path d="M0,-3.45 A3.45,3.45 0 0 0 0,3.45 Z" fill="#e63329"/><text x="0" y="1.9" font-size="5.4" class="b" fill="#fff" text-anchor="middle">2</text></g><text x="6.6" y="2.65" font-size="7.5" class="b" fill="#1d1d1b" text-anchor="start" textLength="85.4" lengthAdjust="spacingAndGlyphs">Omloop Het Nieuwsblad</text><rect x="93.0" y="-2.8" width="2.87" height="5.6" fill="#1a1a1a"/><rect x="95.87" y="-2.8" width="2.87" height="5.6" fill="#fbd116"/><rect x="98.73" y="-2.8" width="2.87" height="5.6" fill="#e4312b"/><text x="102.6" y="2.1" font-size="6.4" fill="#4355a5" text-anchor="start" textLength="12.7" lengthAdjust="spacingAndGlyphs">1945</text><rect x="116.65" y="-3.2" width="0.55" height="6.6" fill="#333"/><text x="118.8" y="2.1" font-size="6.4" fill="#e8392f" text-anchor="start" textLength="12.7" lengthAdjust="spacingAndGlyphs">2006</text></g>
<g transform="translate(325.3,331.4) rotate(-30.2)"><g transform="rotate(30.2)"><circle r="3.45" fill="#2f3a8f"/><path d="M0,-3.45 A3.45,3.45 0 0 0 0,3.45 Z" fill="#e63329"/><text x="0" y="1.9" font-size="5.4" class="b" fill="#fff" text-anchor="middle">3</text></g><text x="5.9" y="2.65" font-size="7.5" class="b" fill="#1d1d1b" text-anchor="start" textLength="51.3" lengthAdjust="spacingAndGlyphs">Strade Bianche</text><rect x="58.2" y="-2.8" width="2.87" height="5.6" fill="#1f9a48"/><rect x="61.07" y="-2.8" width="2.87" height="5.6" fill="#ffffff"/><rect x="63.93" y="-2.8" width="2.87" height="5.6" fill="#d8313a"/><text x="67.8" y="2.1" font-size="6.4" fill="#4355a5" text-anchor="start" textLength="12.7" lengthAdjust="spacingAndGlyphs">2007</text><rect x="81.85" y="-3.2" width="0.55" height="6.6" fill="#333"/><text x="84.0" y="2.1" font-size="6.4" fill="#e8392f" text-anchor="start" textLength="12.7" lengthAdjust="spacingAndGlyphs">2015</text></g>
<g transform="translate(328.3,336.6) rotate(-26.6)"><g transform="rotate(26.6)"><circle r="3.45" fill="#e63329"/><text x="0" y="1.9" font-size="5.4" class="b" fill="#fff" text-anchor="middle">4</text></g><text x="6.3" y="2.65" font-size="7.5" class="b" fill="#1d1d1b" text-anchor="start" textLength="66.1" lengthAdjust="spacingAndGlyphs">Ronde van Drenthe</text><rect x="73.4" y="-2.8" width="8.6" height="1.87" fill="#c8313a"/><rect x="73.4" y="-0.93" width="8.6" height="1.87" fill="#ffffff"/><rect x="73.4" y="0.93" width="8.6" height="1.87" fill="#2b4a9b"/><rect x="73.4" y="-2.8" width="8.6" height="5.6" fill="none" stroke="#9aa" stroke-width="0.25"/><text x="83.0" y="2.1" font-size="6.4" fill="#e8392f" text-anchor="start" textLength="12.7" lengthAdjust="spacingAndGlyphs">2007</text></g>
<g transform="translate(330.9,342.8) rotate(-22.9)"><g transform="rotate(22.9)"><circle r="4.1" fill="#2f3a8f"/><circle r="4.45" fill="none" stroke="#2f3a8f" stroke-width="0.9" stroke-dasharray="0.98 0.77"/><circle r="3.15" fill="none" stroke="#fff" stroke-width="0.35"/><text x="0" y="1.9" font-size="5.4" class="b" fill="#fff" text-anchor="middle">5</text></g><text x="6.7" y="2.65" font-size="7.5" class="b" fill="#1d1d1b" text-anchor="start" textLength="56.7" lengthAdjust="spacingAndGlyphs">Milano-Sanremo</text><rect x="64.8" y="-2.8" width="2.87" height="5.6" fill="#1f9a48"/><rect x="67.67" y="-2.8" width="2.87" height="5.6" fill="#ffffff"/><rect x="70.53" y="-2.8" width="2.87" height="5.6" fill="#d8313a"/><text x="74.4" y="2.1" font-size="6.4" fill="#4355a5" text-anchor="start" textLength="12.7" lengthAdjust="spacingAndGlyphs">1907</text></g>
<g transform="translate(333.3,348.8) rotate(-19.2)"><g transform="rotate(19.2)"><circle r="3.45" fill="#e63329"/><text x="0" y="1.9" font-size="5.4" class="b" fill="#fff" text-anchor="middle">6</text></g><text x="6.9" y="2.65" font-size="7.5" class="b" fill="#1d1d1b" text-anchor="start" textLength="72.1" lengthAdjust="spacingAndGlyphs">Trofeo Alfredo Binda</text><rect x="80.0" y="-2.8" width="2.87" height="5.6" fill="#1f9a48"/><rect x="82.87" y="-2.8" width="2.87" height="5.6" fill="#ffffff"/><rect x="85.73" y="-2.8" width="2.87" height="5.6" fill="#d8313a"/><text x="89.6" y="2.1" font-size="6.4" fill="#e8392f" text-anchor="start" textLength="12.7" lengthAdjust="spacingAndGlyphs">1974</text></g>
<g transform="translate(335.2,354.7) rotate(-15.6)"><g transform="rotate(15.6)"><circle r="3.45" fill="#2f3a8f"/><path d="M0,-3.45 A3.45,3.45 0 0 0 0,3.45 Z" fill="#e63329"/><text x="0" y="1.9" font-size="5.4" class="b" fill="#fff" text-anchor="middle">7</text></g><text x="6.8" y="2.65" font-size="7.5" class="b" fill="#1d1d1b" text-anchor="start" textLength="86.2" lengthAdjust="spacingAndGlyphs">Classic Brugge–De Panne</text><rect x="94.0" y="-2.8" width="2.87" height="5.6" fill="#1a1a1a"/><rect x="96.87" y="-2.8" width="2.87" height="5.6" fill="#fbd116"/><rect x="99.73" y="-2.8" width="2.87" height="5.6" fill="#e4312b"/><text x="103.6" y="2.1" font-size="6.4" fill="#4355a5" text-anchor="start" textLength="12.7" lengthAdjust="spacingAndGlyphs">1977</text><rect x="117.65" y="-3.2" width="0.55" height="6.6" fill="#333"/><text x="119.8" y="2.1" font-size="6.4" fill="#e8392f" text-anchor="start" textLength="12.7" lengthAdjust="spacingAndGlyphs">2018</text></g>
<g transform="translate(337.4,360.9) rotate(-11.9)"><g transform="rotate(11.9)"><circle r="3.45" fill="#2f3a8f"/><text x="0" y="1.9" font-size="5.4" class="b" fill="#fff" text-anchor="middle">8</text></g><text x="6.3" y="2.65" font-size="7.5" class="b" fill="#1d1d1b" text-anchor="start" textLength="45.7" lengthAdjust="spacingAndGlyphs">E3 Harelbeke</text><rect x="52.6" y="-2.8" width="2.87" height="5.6" fill="#1a1a1a"/><rect x="55.47" y="-2.8" width="2.87" height="5.6" fill="#fbd116"/><rect x="58.33" y="-2.8" width="2.87" height="5.6" fill="#e4312b"/><text x="62.2" y="2.1" font-size="6.4" fill="#4355a5" text-anchor="start" textLength="12.7" lengthAdjust="spacingAndGlyphs">1958</text></g>
<g transform="translate(338.4,366.9) rotate(-8.3)"><g transform="rotate(8.3)"><circle r="3.45" fill="#2f3a8f"/><path d="M0,-3.45 A3.45,3.45 0 0 0 0,3.45 Z" fill="#e63329"/><text x="0" y="1.9" font-size="5.4" class="b" fill="#fff" text-anchor="middle">9</text></g><text x="6.2" y="2.65" font-size="7.5" class="b" fill="#1d1d1b" text-anchor="start" textLength="56.6" lengthAdjust="spacingAndGlyphs">Gent–Wevelgem</text><rect x="63.8" y="-2.8" width="2.87" height="5.6" fill="#1a1a1a"/><rect x="66.67" y="-2.8" width="2.87" height="5.6" fill="#fbd116"/><rect x="69.53" y="-2.8" width="2.87" height="5.6" fill="#e4312b"/><text x="73.4" y="2.1" font-size="6.4" fill="#4355a5" text-anchor="start" textLength="12.7" lengthAdjust="spacingAndGlyphs">1934</text><rect x="87.45" y="-3.2" width="0.55" height="6.6" fill="#333"/><text x="89.6" y="2.1" font-size="6.4" fill="#e8392f" text-anchor="start" textLength="12.7" lengthAdjust="spacingAndGlyphs">2012</text></g>
<g transform="translate(338.9,373.4) rotate(-4.7)"><g transform="rotate(4.7)"><circle r="3.45" fill="#2f3a8f"/><path d="M0,-3.45 A3.45,3.45 0 0 0 0,3.45 Z" fill="#e63329"/><text x="0" y="1.9" font-size="5.4" class="b" fill="#fff" text-anchor="middle" textLength="4.9" lengthAdjust="spacingAndGlyphs">10</text></g><text x="6.5" y="2.65" font-size="7.5" class="b" fill="#1d1d1b" text-anchor="start" textLength="81.5" lengthAdjust="spacingAndGlyphs">Dwars door Vlaanderen</text><rect x="88.6" y="-2.8" width="2.87" height="5.6" fill="#1a1a1a"/><rect x="91.47" y="-2.8" width="2.87" height="5.6" fill="#fbd116"/><rect x="94.33" y="-2.8" width="2.87" height="5.6" fill="#e4312b"/><text x="98.2" y="2.1" font-size="6.4" fill="#4355a5" text-anchor="start" textLength="12.7" lengthAdjust="spacingAndGlyphs">1945</text><rect x="112.25" y="-3.2" width="0.55" height="6.6" fill="#333"/><text x="114.4" y="2.1" font-size="6.4" fill="#e8392f" text-anchor="start" textLength="12.7" lengthAdjust="spacingAndGlyphs">2012</text></g>
<g transform="translate(338.0,389.9) rotate(4.5)"><g transform="rotate(-4.5)"><circle r="4.1" fill="#2f3a8f"/><path d="M0,-4.1 A4.1,4.1 0 0 0 0,4.1 Z" fill="#e63329"/><circle r="4.45" fill="none" stroke="#2f3a8f" stroke-width="0.9" stroke-dasharray="0.98 0.77"/><path d="M0,-4.45 A4.45,4.45 0 0 0 0,4.45" fill="none" stroke="#e63329" stroke-width="0.9" stroke-dasharray="0.98 0.77"/><circle r="3.15" fill="none" stroke="#fff" stroke-width="0.35"/><text x="0" y="1.9" font-size="5.4" class="b" fill="#fff" text-anchor="middle" textLength="4.9" lengthAdjust="spacingAndGlyphs">11</text></g><text x="7.5" y="2.65" font-size="7.5" class="b" fill="#1d1d1b" text-anchor="start" textLength="61.8" lengthAdjust="spacingAndGlyphs">Giro delle Fiandre</text><rect x="72.5" y="-2.8" width="2.87" height="5.6" fill="#1a1a1a"/><rect x="75.37" y="-2.8" width="2.87" height="5.6" fill="#fbd116"/><rect x="78.23" y="-2.8" width="2.87" height="5.6" fill="#e4312b"/><text x="82.1" y="2.1" font-size="6.4" fill="#4355a5" text-anchor="start" textLength="12.7" lengthAdjust="spacingAndGlyphs">1913</text><rect x="96.15" y="-3.2" width="0.55" height="6.6" fill="#333"/><text x="98.3" y="2.1" font-size="6.4" fill="#e8392f" text-anchor="start" textLength="12.7" lengthAdjust="spacingAndGlyphs">2004</text></g>
<g transform="translate(337.0,397.5) rotate(9.0)"><g transform="rotate(-9.0)"><circle r="4.1" fill="#2f3a8f"/><path d="M0,-4.1 A4.1,4.1 0 0 0 0,4.1 Z" fill="#e63329"/><circle r="4.45" fill="none" stroke="#2f3a8f" stroke-width="0.9" stroke-dasharray="0.98 0.77"/><path d="M0,-4.45 A4.45,4.45 0 0 0 0,4.45" fill="none" stroke="#e63329" stroke-width="0.9" stroke-dasharray="0.98 0.77"/><circle r="3.15" fill="none" stroke="#fff" stroke-width="0.35"/><text x="0" y="1.9" font-size="5.4" class="b" fill="#fff" text-anchor="middle" textLength="4.9" lengthAdjust="spacingAndGlyphs">12</text></g><text x="7.6" y="2.65" font-size="7.5" class="b" fill="#1d1d1b" text-anchor="start" textLength="50.1" lengthAdjust="spacingAndGlyphs">Parigi-Roubaix</text><rect x="59.9" y="-2.8" width="2.87" height="5.6" fill="#2b4a9b"/><rect x="62.77" y="-2.8" width="2.87" height="5.6" fill="#ffffff"/><rect x="65.63" y="-2.8" width="2.87" height="5.6" fill="#e4312b"/><text x="69.5" y="2.1" font-size="6.4" fill="#4355a5" text-anchor="start" textLength="12.7" lengthAdjust="spacingAndGlyphs">1896</text><rect x="83.55" y="-3.2" width="0.55" height="6.6" fill="#333"/><text x="85.7" y="2.1" font-size="6.4" fill="#e8392f" text-anchor="start" textLength="12.7" lengthAdjust="spacingAndGlyphs">2021</text></g>
<g transform="translate(335.4,404.9) rotate(13.5)"><g transform="rotate(-13.5)"><circle r="3.45" fill="#2f3a8f"/><path d="M0,-3.45 A3.45,3.45 0 0 0 0,3.45 Z" fill="#e63329"/><text x="0" y="1.9" font-size="5.4" class="b" fill="#fff" text-anchor="middle" textLength="4.9" lengthAdjust="spacingAndGlyphs">13</text></g><text x="7.7" y="2.65" font-size="7.5" class="b" fill="#1d1d1b" text-anchor="start" textLength="60.5" lengthAdjust="spacingAndGlyphs">Amstel Gold Race</text><rect x="70.7" y="-2.8" width="8.6" height="1.87" fill="#c8313a"/><rect x="70.7" y="-0.93" width="8.6" height="1.87" fill="#ffffff"/><rect x="70.7" y="0.93" width="8.6" height="1.87" fill="#2b4a9b"/><rect x="70.7" y="-2.8" width="8.6" height="5.6" fill="none" stroke="#9aa" stroke-width="0.25"/><text x="80.3" y="2.1" font-size="6.4" fill="#4355a5" text-anchor="start" textLength="12.7" lengthAdjust="spacingAndGlyphs">1966</text><rect x="94.35" y="-3.2" width="0.55" height="6.6" fill="#333"/><text x="96.5" y="2.1" font-size="6.4" fill="#e8392f" text-anchor="start" textLength="12.7" lengthAdjust="spacingAndGlyphs">2001</text></g>
<g transform="translate(333.3,413.3) rotate(18.5)"><g transform="rotate(-18.5)"><circle r="3.45" fill="#2f3a8f"/><path d="M0,-3.45 A3.45,3.45 0 0 0 0,3.45 Z" fill="#e63329"/><text x="0" y="1.9" font-size="5.4" class="b" fill="#fff" text-anchor="middle" textLength="4.9" lengthAdjust="spacingAndGlyphs">14</text></g><text x="6.9" y="2.65" font-size="7.5" class="b" fill="#1d1d1b" text-anchor="start" textLength="53.1" lengthAdjust="spacingAndGlyphs">Freccia Vallone</text><rect x="60.6" y="-2.8" width="2.87" height="5.6" fill="#1a1a1a"/><rect x="63.47" y="-2.8" width="2.87" height="5.6" fill="#fbd116"/><rect x="66.33" y="-2.8" width="2.87" height="5.6" fill="#e4312b"/><text x="70.2" y="2.1" font-size="6.4" fill="#4355a5" text-anchor="start" textLength="12.7" lengthAdjust="spacingAndGlyphs">1936</text><rect x="84.25" y="-3.2" width="0.55" height="6.6" fill="#333"/><text x="86.4" y="2.1" font-size="6.4" fill="#e8392f" text-anchor="start" textLength="12.7" lengthAdjust="spacingAndGlyphs">1998</text></g>
<g transform="translate(330.2,420.8) rotate(23.8)"><g transform="rotate(-23.8)"><circle r="4.1" fill="#2f3a8f"/><path d="M0,-4.1 A4.1,4.1 0 0 0 0,4.1 Z" fill="#e63329"/><circle r="4.45" fill="none" stroke="#2f3a8f" stroke-width="0.9" stroke-dasharray="0.98 0.77"/><path d="M0,-4.45 A4.45,4.45 0 0 0 0,4.45" fill="none" stroke="#e63329" stroke-width="0.9" stroke-dasharray="0.98 0.77"/><circle r="3.15" fill="none" stroke="#fff" stroke-width="0.35"/><text x="0" y="1.9" font-size="5.4" class="b" fill="#fff" text-anchor="middle" textLength="4.9" lengthAdjust="spacingAndGlyphs">15</text></g><text x="6.5" y="2.65" font-size="7.5" class="b" fill="#1d1d1b" text-anchor="start" textLength="70.0" lengthAdjust="spacingAndGlyphs">Liegi-Bastogne-Liegi</text><rect x="78.6" y="-2.8" width="2.87" height="5.6" fill="#1a1a1a"/><rect x="81.47" y="-2.8" width="2.87" height="5.6" fill="#fbd116"/><rect x="84.33" y="-2.8" width="2.87" height="5.6" fill="#e4312b"/><text x="88.2" y="2.1" font-size="6.4" fill="#4355a5" text-anchor="start" textLength="12.7" lengthAdjust="spacingAndGlyphs">1892</text><rect x="102.25" y="-3.2" width="0.55" height="6.6" fill="#333"/><text x="104.4" y="2.1" font-size="6.4" fill="#e8392f" text-anchor="start" textLength="12.7" lengthAdjust="spacingAndGlyphs">2017</text></g>
<g transform="translate(324.0,433.8) rotate(31.2)"><g transform="rotate(-31.2)"><circle r="3.45" fill="#2f3a8f"/><text x="0" y="1.9" font-size="5.4" class="b" fill="#fff" text-anchor="middle" textLength="4.9" lengthAdjust="spacingAndGlyphs">16</text></g><text x="6.6" y="2.65" font-size="7.5" class="b" fill="#1d1d1b" text-anchor="start" textLength="76.6" lengthAdjust="spacingAndGlyphs">Eschborn-Francoforte</text><rect x="84.2" y="-2.8" width="8.6" height="1.87" fill="#1a1a1a"/><rect x="84.2" y="-0.93" width="8.6" height="1.87" fill="#dd2a1e"/><rect x="84.2" y="0.93" width="8.6" height="1.87" fill="#f7c914"/><text x="93.8" y="2.1" font-size="6.4" fill="#4355a5" text-anchor="start" textLength="12.7" lengthAdjust="spacingAndGlyphs">1962</text></g>
<g transform="translate(142.2,356.3) rotate(16.8)"><g transform="rotate(-16.8)"><circle r="3.45" fill="#e63329"/><text x="0" y="1.9" font-size="5.4" class="b" fill="#fff" text-anchor="middle" textLength="4.9" lengthAdjust="spacingAndGlyphs">23</text></g><text x="-7.2" y="2.65" font-size="7.5" class="b" fill="#1d1d1b" text-anchor="end" textLength="54.6" lengthAdjust="spacingAndGlyphs">Giro di Guangxi</text><rect x="-71.3" y="-2.8" width="8.6" height="5.6" fill="#e1301f"/><circle cx="-69.5" cy="-1.0" r="0.9" fill="#f9d616"/><text x="-72.6" y="2.1" font-size="6.4" fill="#e8392f" text-anchor="end" textLength="12.6" lengthAdjust="spacingAndGlyphs">2017</text></g>
<g transform="translate(139.0,374.5) rotate(5.4)"><g transform="rotate(-5.4)"><circle r="4.1" fill="#2f3a8f"/><circle r="4.45" fill="none" stroke="#2f3a8f" stroke-width="0.9" stroke-dasharray="0.98 0.77"/><circle r="3.15" fill="none" stroke="#fff" stroke-width="0.35"/><text x="0" y="1.9" font-size="5.4" class="b" fill="#fff" text-anchor="middle" textLength="4.9" lengthAdjust="spacingAndGlyphs">22</text></g><text x="-7.5" y="2.65" font-size="7.5" class="b" fill="#1d1d1b" text-anchor="end" textLength="58.2" lengthAdjust="spacingAndGlyphs">Giro di Lombardia</text><rect x="-75.6" y="-2.8" width="2.87" height="5.6" fill="#1f9a48"/><rect x="-72.73" y="-2.8" width="2.87" height="5.6" fill="#ffffff"/><rect x="-69.87" y="-2.8" width="2.87" height="5.6" fill="#d8313a"/><text x="-77.4" y="2.1" font-size="6.4" fill="#4355a5" text-anchor="end" textLength="12" lengthAdjust="spacingAndGlyphs">1905</text></g>
<g transform="translate(142.4,408.0) rotate(-15.4)"><g transform="rotate(15.4)"><circle r="3.45" fill="#2f3a8f"/><text x="0" y="1.9" font-size="5.4" class="b" fill="#fff" text-anchor="middle" textLength="4.9" lengthAdjust="spacingAndGlyphs">21</text></g><text x="-6.8" y="0.05" font-size="7.5" class="b" fill="#1d1d1b" text-anchor="end" textLength="65.4" lengthAdjust="spacingAndGlyphs">Grand Prix Cycliste</text><text x="-6.3" y="7.05" font-size="7.5" class="b" fill="#1d1d1b" text-anchor="end" textLength="43.3" lengthAdjust="spacingAndGlyphs">de Montréal</text><rect x="-81.4" y="-5.4" width="2.15" height="5.6" fill="#e1261c"/><rect x="-79.25" y="-5.4" width="4.3" height="5.6" fill="#ffffff"/><rect x="-74.95" y="-5.4" width="2.15" height="5.6" fill="#e1261c"/><path d="M-77.1,-4.5 l1.5,2.1 l-0.9,0.2 l0,1.4 l-1.2,0 l0,-1.4 l-0.9,-0.2 z" fill="#e1261c"/><text x="-82.8" y="-0.5" font-size="6.4" fill="#4355a5" text-anchor="end" textLength="12.6" lengthAdjust="spacingAndGlyphs">2010</text></g>
<g transform="translate(146.8,421.6) rotate(-22.0)"><g transform="rotate(22.0)"><circle r="3.45" fill="#2f3a8f"/><text x="0" y="1.9" font-size="5.4" class="b" fill="#fff" text-anchor="middle" textLength="4.9" lengthAdjust="spacingAndGlyphs">20</text></g><text x="-6.9" y="2.15" font-size="7.5" class="b" fill="#1d1d1b" text-anchor="end" textLength="33.7" lengthAdjust="spacingAndGlyphs">Grand Prix</text><text x="-6.6" y="8.95" font-size="7.5" class="b" fill="#1d1d1b" text-anchor="end" textLength="61.3" lengthAdjust="spacingAndGlyphs">Cycliste de Québec</text><rect x="-50.0" y="-3.3" width="2.15" height="5.6" fill="#e1261c"/><rect x="-47.85" y="-3.3" width="4.3" height="5.6" fill="#ffffff"/><rect x="-43.55" y="-3.3" width="2.15" height="5.6" fill="#e1261c"/><path d="M-45.7,-2.4 l1.5,2.1 l-0.9,0.2 l0,1.4 l-1.2,0 l0,-1.4 l-0.9,-0.2 z" fill="#e1261c"/><text x="-51.0" y="1.6" font-size="6.4" fill="#4355a5" text-anchor="end" textLength="12.6" lengthAdjust="spacingAndGlyphs">2010</text></g>
<g transform="translate(155.1,436.6) rotate(-33.7)"><g transform="rotate(33.7)"><circle r="3.45" fill="#2f3a8f"/><path d="M0,-3.45 A3.45,3.45 0 0 0 0,3.45 Z" fill="#e63329"/><text x="0" y="1.9" font-size="5.4" class="b" fill="#fff" text-anchor="middle" textLength="4.9" lengthAdjust="spacingAndGlyphs">19</text></g><text x="-7.8" y="2.35" font-size="7.5" class="b" fill="#1d1d1b" text-anchor="end" textLength="104.2" lengthAdjust="spacingAndGlyphs">Bretagne Classic Ouest-France</text><text x="-7.8" y="9.65" font-size="7.5" class="b" fill="#1d1d1b" text-anchor="end" textLength="102.5" lengthAdjust="spacingAndGlyphs">Grand Prix de Plouay-Bretagne</text><rect x="-121.3" y="-3.1" width="2.87" height="5.6" fill="#2b4a9b"/><rect x="-118.43" y="-3.1" width="2.87" height="5.6" fill="#ffffff"/><rect x="-115.57" y="-3.1" width="2.87" height="5.6" fill="#e4312b"/><text x="-122.3" y="1.8" font-size="6.4" fill="#4355a5" text-anchor="end" textLength="12.3" lengthAdjust="spacingAndGlyphs">1931</text><rect x="-112.85" y="3.8" width="0.55" height="6.6" fill="#333"/><text x="-114.6" y="9.1" font-size="6.4" fill="#e8392f" text-anchor="end" textLength="12.3" lengthAdjust="spacingAndGlyphs">1998</text></g>
<g transform="translate(164.4,448.8) rotate(-39.6)"><g transform="rotate(39.6)"><circle r="3.45" fill="#2f3a8f"/><text x="0" y="1.9" font-size="5.4" class="b" fill="#fff" text-anchor="middle" textLength="4.9" lengthAdjust="spacingAndGlyphs">18</text></g><text x="-6.5" y="2.65" font-size="7.5" class="b" fill="#1d1d1b" text-anchor="end" textLength="65.8" lengthAdjust="spacingAndGlyphs">Classica di Amburgo</text><rect x="-81.9" y="-2.8" width="8.6" height="1.87" fill="#1a1a1a"/><rect x="-81.9" y="-0.93" width="8.6" height="1.87" fill="#dd2a1e"/><rect x="-81.9" y="0.93" width="8.6" height="1.87" fill="#f7c914"/><text x="-82.9" y="2.1" font-size="6.4" fill="#4355a5" text-anchor="end" textLength="11.8" lengthAdjust="spacingAndGlyphs">1996</text></g>
<g transform="translate(193.2,471.1) rotate(-58.6)"><g transform="rotate(58.6)"><circle r="3.45" fill="#2f3a8f"/><text x="0" y="1.9" font-size="5.4" class="b" fill="#fff" text-anchor="middle" textLength="4.9" lengthAdjust="spacingAndGlyphs">17</text></g><text x="-7.6" y="2.65" font-size="7.5" class="b" fill="#1d1d1b" text-anchor="end" textLength="84.2" lengthAdjust="spacingAndGlyphs">Classica di San Sebastián</text><rect x="-103.0" y="-2.8" width="8.6" height="1.4" fill="#c8202a"/><rect x="-103.0" y="-1.4" width="8.6" height="2.8" fill="#f9c615"/><rect x="-103.0" y="1.4" width="8.6" height="1.4" fill="#c8202a"/><circle cx="-100.16" cy="0" r="0.9" fill="#b5651d"/><text x="-104.5" y="2.1" font-size="6.4" fill="#4355a5" text-anchor="end" textLength="12" lengthAdjust="spacingAndGlyphs">1981</text></g>
<g transform="translate(530,78) scale(0.0777)">
<circle cx="330" cy="320" r="243" fill="#fab913"/>
<clipPath id="icl"><circle cx="330" cy="320" r="243"/></clipPath>
<g clip-path="url(#icl)" fill="none" stroke="#dd3b2a" stroke-width="13"><circle cx="178" cy="468" r="88"/><circle cx="468" cy="468" r="88"/></g>
<path d="M100,180 C130,160 160,200 165,250 C170,290 200,310 225,330" fill="none" stroke="#4a2313" stroke-width="30" stroke-linecap="round"/>
<path d="M200,240 C195,150 300,118 385,135 C435,142 470,170 482,200 L425,292 C400,312 385,335 372,362 C350,405 280,412 248,390 C214,350 203,295 200,240Z" fill="#16a293"/>
<path d="M430,120 C470,105 520,115 522,140 C515,165 490,185 465,185 C445,170 430,150 430,120Z" fill="#4a2313"/>
<path d="M398,112 C405,85 450,75 485,98 C495,105 498,118 490,124 C465,112 430,118 412,135 C402,130 398,122 398,112Z" fill="#c42b26"/>
<path d="M355,285 C375,285 400,295 420,300" fill="none" stroke="#6a2f14" stroke-width="18" stroke-linecap="round"/>
<path d="M345,330 C350,360 345,390 335,410" fill="none" stroke="#245a78" stroke-width="28" stroke-linecap="round"/>
<path d="M262,395 C262,420 270,450 290,470 M330,410 C325,430 320,450 300,465" fill="none" stroke="#4a2313" stroke-width="16" stroke-linecap="round"/>
<path d="M178,468 L235,400 L335,452 L410,380 L240,402 M178,468 L300,470 M405,295 L445,302 M420,300 L432,372 L470,465 M335,452 L345,400" fill="none" stroke="#20140e" stroke-width="7" stroke-linecap="round" stroke-linejoin="round"/>
</g>
<text x="537" y="134.6" font-size="7.2" class="b i" fill="#1d1d1b" textLength="36" lengthAdjust="spacingAndGlyphs">LO SAPEVI?</text>
<text x="537" y="144" font-size="8.7" class="ser i" fill="#1d1d1b" textLength="125.5" lengthAdjust="spacingAndGlyphs">La più antica corsa del mondo ancora</text>
<text x="537" y="153.8" font-size="8.7" class="ser i" fill="#1d1d1b" textLength="143" lengthAdjust="spacingAndGlyphs">esistente è la Milano-Torino, tenutasi per la</text>
<text x="537" y="163.5" font-size="8.7" class="ser i" fill="#1d1d1b" textLength="151.7" lengthAdjust="spacingAndGlyphs">prima volta nel 1876 e organizzata da un club</text>
<text x="537" y="173.2" font-size="8.7" class="ser i" fill="#1d1d1b" textLength="143" lengthAdjust="spacingAndGlyphs">ciclistico milanese, con la partecipazione di</text>
<text x="537" y="182.7" font-size="8.7" class="ser i" fill="#1d1d1b" textLength="151.7" lengthAdjust="spacingAndGlyphs">otto corridori. Con poche eccezioni, l'evento si</text>
<text x="537" y="192.3" font-size="8.7" class="ser i" fill="#1d1d1b" textLength="91.2" lengthAdjust="spacingAndGlyphs">è svolto ogni anno dal 1907.</text>
</svg>
</body></html>
